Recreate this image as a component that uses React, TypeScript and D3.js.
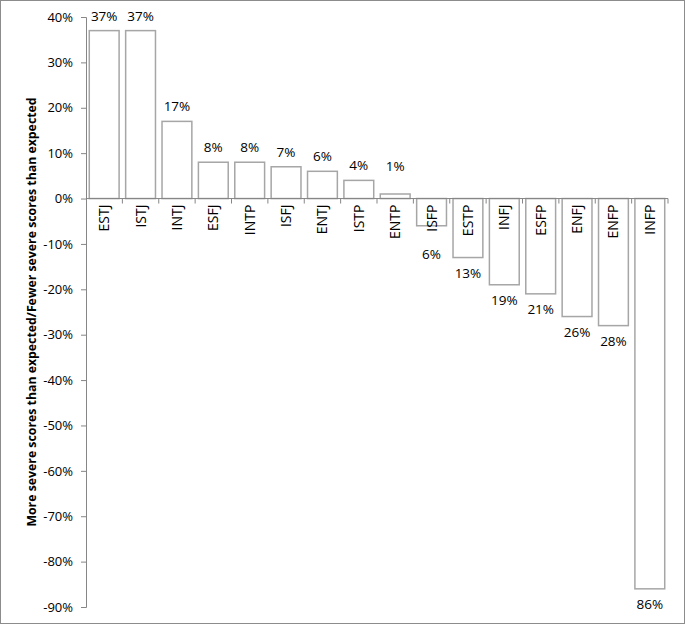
import React, { useEffect, useRef } from 'react';
import * as d3 from 'd3';

// MBTI types and the percent difference (more / fewer severe scores than expected)
const types = ['ESTJ', 'ISTJ', 'INTJ', 'ESFJ', 'INTP', 'ISFJ', 'ENTJ', 'ISTP', 'ENTP',
  'ISFP', 'ESTP', 'INFJ', 'ESFP', 'ENFJ', 'ENFP', 'INFP'];
const values = [37, 37, 17, 8, 8, 7, 6, 4, 1, -6, -13, -19, -21, -26, -28, -86];
const yTicks = [40, 30, 20, 10, 0, -10, -20, -30, -40, -50, -60, -70, -80, -90];
const yTitle = 'More severe scores than expected/Fewer severe scores than expected';

const W = 685;
const H = 624;
const FONT = '"Open Sans", "Noto Sans", sans-serif';

export default function App() {
  const ref = useRef<SVGSVGElement>(null);

  useEffect(() => {
    document.body.style.margin = '0';
    const svg = d3.select(ref.current);
    svg.selectAll('*').remove();

    const margin = { top: 17, right: 17, bottom: 17, left: 86 };

    let x = d3.scaleBand()
      .domain(types)
      .range([margin.left, W - margin.right])
      .paddingInner(0.18)
      .paddingOuter(0.09);
    let y = d3.scaleLinear()
      .domain([-90, 40])
      .range([H - margin.bottom, margin.top]);
    const y0 = y(0);

    // outer frame
    svg.append('rect')
      .attr('x', 0.5).attr('y', 0.5)
      .attr('width', W - 1).attr('height', H - 1)
      .attr('fill', 'white')
      .attr('stroke', '#8c8c8c');

    // bars
    svg.selectAll('.bar')
      .data(values)
      .enter().append('rect')
      .attr('class', 'bar')
      .attr('x', (d, i) => x(types[i]))
      .attr('width', x.bandwidth())
      .attr('y', d => y(Math.max(0, d)))
      .attr('height', d => Math.abs(y(d) - y0))
      .attr('fill', 'white')
      .attr('stroke', '#a6a6a6')
      .attr('stroke-width', 1.5);

    // y axis
    const yAxis = svg.append('g')
      .attr('transform', 'translate(' + margin.left + ',0)')
      .call(d3.axisLeft(y).tickValues(yTicks).tickSize(5).tickPadding(8)
        .tickFormat(d => d + '%'));
    yAxis.select('.domain').attr('stroke', '#868686');
    yAxis.selectAll('line').attr('stroke', '#868686');
    yAxis.selectAll('text')
      .style('font-family', FONT)
      .style('font-size', '13px')
      .attr('fill', '#000');

    // x axis at zero: line plus small ticks at category boundaries
    const step = x.step();
    const x0 = margin.left;
    const bounds = d3.range(types.length + 1).map(i => x0 + i * step);
    svg.append('line')
      .attr('x1', x0).attr('x2', bounds[bounds.length - 1])
      .attr('y1', y0).attr('y2', y0)
      .attr('stroke', '#868686');
    svg.selectAll('.xtick')
      .data(bounds.slice(1))
      .enter().append('line')
      .attr('class', 'xtick')
      .attr('x1', d => d).attr('x2', d => d)
      .attr('y1', y0).attr('y2', y0 + 5)
      .attr('stroke', '#868686');

    // category labels, rotated, hanging below the zero line
    svg.selectAll('.cat')
      .data(types)
      .enter().append('text')
      .attr('class', 'cat')
      .attr('transform', d => 'translate(' + (x(d) + x.bandwidth() / 2) + ',' + (y0 + 6) + ') rotate(-90)')
      .attr('dy', '0.36em')
      .attr('text-anchor', 'end')
      .style('font-family', FONT)
      .style('font-size', '14px')
      .attr('fill', '#000')
      .text(d => d);

    // value labels (absolute value)
    svg.selectAll('.val')
      .data(values)
      .enter().append('text')
      .attr('class', 'val')
      .attr('x', (d, i) => x(types[i]) + x.bandwidth() / 2)
      .attr('y', d => d >= 0
        ? Math.min(y(d) - 10, y0 - 28)
        : Math.max(y(d) + 20, y0 + 60))
      .attr('text-anchor', 'middle')
      .style('font-family', FONT)
      .style('font-size', '13.5px')
      .attr('fill', '#000')
      .text(d => Math.abs(d) + '%');

    // y axis title
    svg.append('text')
      .attr('transform', 'translate(36,' + ((margin.top + H - margin.bottom) / 2) + ') rotate(-90)')
      .attr('text-anchor', 'middle')
      .style('font-family', FONT)
      .style('font-size', '12.3px')
      .style('font-weight', 'bold')
      .attr('fill', '#000')
      .text(yTitle);
  }, []);

  return (
    <svg ref={ref} width={W} height={H} style={{ display: 'block' }}></svg>
  );
}
